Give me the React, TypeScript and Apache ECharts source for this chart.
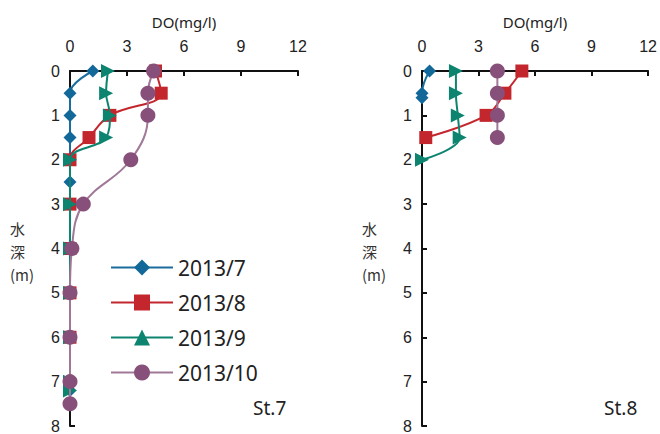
import React, { useEffect, useRef } from "react";
import * as echarts from "echarts";

const seriesNames = ["2013/7", "2013/8", "2013/9", "2013/10"];
const doTicks = [0, 3, 6, 9, 12];

// St.7
const st7Depth7 = [0, 0.5, 1, 1.5, 2, 2.5, 3, 4, 5, 6, 7, 7.2];
const st7Do7 = [1.2, 0, 0, 0, 0, 0, 0, 0, 0, 0, 0, 0];
const st7Depth8 = [0, 0.5, 1, 1.5, 2, 3, 4, 5, 6];
const st7Do8 = [4.5, 4.8, 2.1, 1.0, 0, 0, 0, 0, 0];
const st7Depth9 = [0, 0.5, 1, 1.5, 2, 3, 4, 5, 6, 7, 7.2];
const st7Do9 = [2.0, 1.9, 2.1, 1.9, 0, 0, 0, 0, 0, 0, 0];
const st7Depth10 = [0, 0.5, 1, 2, 3, 4, 5, 6, 7, 7.5];
const st7Do10 = [4.4, 4.1, 4.1, 3.2, 0.7, 0.1, 0, 0, 0, 0];

// St.8
const st8Depth7 = [0, 0.5, 0.6];
const st8Do7 = [0.4, 0, 0];
const st8Depth8 = [0, 0.5, 1, 1.5];
const st8Do8 = [5.3, 4.4, 3.4, 0.2];
const st8Depth9 = [0, 0.5, 1, 1.5, 2];
const st8Do9 = [1.8, 1.8, 1.9, 2.0, 0];
const st8Depth10 = [0, 0.5, 1, 1.5];
const st8Do10 = [4.0, 4.0, 4.0, 4.0];

const pair = (xs: number[], ys: number[]) => xs.map((x, i) => [x, ys[i]]);

const styles = [
  { color: "#13689a", line: "#1a6d9c", symbol: "diamond", size: 13, rotate: 0 },
  { color: "#c4262e", line: "#c4262e", symbol: "rect", size: 13, rotate: 0 },
  { color: "#0c8470", line: "#0c8470", symbol: "triangle", size: 14, rotate: -90 },
  { color: "#87507a", line: "#a07898", symbol: "circle", size: 15, rotate: 0 },
];

const FONT = "Liberation Sans";

export default function App() {
  const ref = useRef<HTMLDivElement>(null);
  useEffect(() => {
    if (!ref.current) return;
    const chart = echarts.init(ref.current, undefined, { renderer: "svg" });
    const panels = [
      [pair(st7Do7, st7Depth7), pair(st7Do8, st7Depth8), pair(st7Do9, st7Depth9), pair(st7Do10, st7Depth10)],
      [pair(st8Do7, st8Depth7), pair(st8Do8, st8Depth8), pair(st8Do9, st8Depth9), pair(st8Do10, st8Depth10)],
    ];
    const series: any[] = [];
    panels.forEach((panel, p) => {
      panel.forEach((data, i) => {
        const s = styles[i];
        series.push({
          name: seriesNames[i],
          type: "line",
          xAxisIndex: p,
          yAxisIndex: p,
          data,
          smooth: 0.4,
          symbol: s.symbol,
          symbolSize: s.size,
          symbolRotate: s.rotate,
          showAllSymbol: true,
          lineStyle: { color: s.line, width: 2 },
          itemStyle: { color: s.color },
          z: 2 + i,
        });
      });
    });
    const xAxisBase = (gridIndex: number) => ({
      gridIndex,
      type: "value",
      position: "top",
      min: 0,
      max: 12,
      interval: 3,
      name: "DO(mg/l)",
      nameLocation: "middle",
      nameGap: 42,
      nameTextStyle: { fontFamily: "Noto Sans", fontSize: 15, color: "#222" },
      axisLine: { show: true, onZero: false, lineStyle: { color: "#111", width: 2 } },
      axisTick: { show: true, inside: true, length: 5, lineStyle: { color: "#111", width: 2 } },
      axisLabel: { margin: 17, fontFamily: FONT, fontSize: 16, color: "#222", formatter: (v: number) => (doTicks.includes(v) ? String(v) : "") },
      splitLine: { show: false },
    });
    const yAxisBase = (gridIndex: number) => ({
      gridIndex,
      type: "value",
      inverse: true,
      min: 0,
      max: 8,
      interval: 1,
      axisLine: { show: true, onZero: false, lineStyle: { color: "#111", width: 2 } },
      axisTick: { show: true, inside: true, length: 5, lineStyle: { color: "#111", width: 2 } },
      axisLabel: { margin: 10, fontFamily: FONT, fontSize: 16, color: "#222" },
      splitLine: { show: false },
    });
    chart.setOption({
      animation: false,
      backgroundColor: "#fff",
      grid: [
        { left: 70, top: 71, width: 228, height: 357 },
        { left: 422, top: 71, width: 227, height: 357 },
      ],
      xAxis: [xAxisBase(0), xAxisBase(1)],
      yAxis: [yAxisBase(0), yAxisBase(1)],
      legend: {
        data: seriesNames,
        orient: "vertical",
        left: 105,
        top: 252,
        itemWidth: 62,
        itemHeight: 20,
        itemGap: 14,
        symbolRotate: 0,
        textStyle: { fontFamily: "Noto Sans", fontSize: 21, lineHeight: 21, color: "#222" },
      },
      graphic: [
        {
          type: "text",
          left: 10,
          top: 217,
          style: { text: "水\n深\n(m)", fontFamily: "Noto Sans CJK JP", fontSize: 15, lineHeight: 23, fill: "#333", align: "center" },
        },
        {
          type: "text",
          left: 362,
          top: 217,
          style: { text: "水\n深\n(m)", fontFamily: "Noto Sans CJK JP", fontSize: 15, lineHeight: 23, fill: "#333", align: "center" },
        },
        { type: "text", left: 253, top: 398, style: { text: "St.7", fontFamily: "Noto Sans", fontSize: 19, fill: "#222" } },
        { type: "text", left: 604, top: 398, style: { text: "St.8", fontFamily: "Noto Sans", fontSize: 19, fill: "#222" } },
      ],
      series,
    });
    return () => chart.dispose();
  }, []);
  return <div ref={ref} style={{ position: "fixed", left: 0, top: 0, width: 660, height: 434 }} />;
}
